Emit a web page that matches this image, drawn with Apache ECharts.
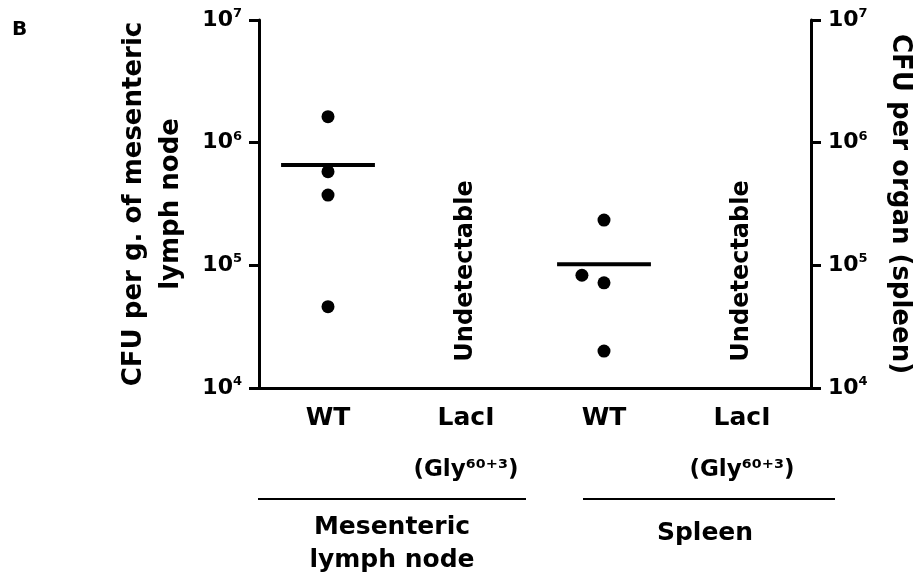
<!DOCTYPE html>
<html>
<head>
<meta charset="utf-8">
<script src="https://cdn.jsdelivr.net/npm/echarts@6/dist/echarts.min.js"></script>
<style>
  html, body { margin: 0; padding: 0; background: #fff; }
  #chart { width: 915px; height: 579px; }
</style>
</head>
<body>
<div id="chart"></div>
<script>
var groups = ['WT', 'LacI', 'WT', 'LacI']
var yTicks = [1e4, 1e5, 1e6, 1e7]
// CFU values
var mlnWT = [1.63e6, 5.8e5, 3.74e5, 4.6e4]
var spleenWT = [2.34e5, 8.3e4, 7.2e4, 2.0e4]
var spleenJitter = [0, -0.16, 0, 0]
var undetectable = [1, 3] // category index of LacI groups
var undetectableLevel = 9e4

var font = 'DejaVu Sans'
var chart = echarts.init(document.getElementById('chart'))

function pts(vals, cat, jitter) {
  return vals.map(function(v, i) {
    return [cat + 0.5 + (jitter ? jitter[i] : 0), v]
  })
}
function mean(vals) {
  var s = 0
  for (var i = 0; i < vals.length; i++) s += vals[i]
  return s / vals.length
}
function meanLine(vals, cat) {
  var m = mean(vals)
  return {
    type: 'line',
    xAxisIndex: 1,
    symbol: 'none',
    silent: true,
    lineStyle: { color: '#000', width: 4 },
    data: [[cat + 0.5 - 0.34, m], [cat + 0.5 + 0.34, m]]
  }
}

var yLabel = {
  margin: 17,
  color: '#000',
  formatter: function(v) {
    return '{b|10}{s|' + Math.round(Math.log10(v)) + '}'
  },
  rich: {
    b: { fontSize: 22, fontWeight: 'bold', fontFamily: font, lineHeight: 26, color: '#000' },
    s: { fontSize: 13, fontWeight: 'bold', fontFamily: font, lineHeight: 15, verticalAlign: 'top', color: '#000' }
  }
}
function yAxisOpt(pos, name, rot) {
  return {
    type: 'log',
    logBase: 10,
    min: yTicks[0],
    max: yTicks[yTicks.length - 1],
    position: pos,
    axisLine: { show: true, lineStyle: { color: '#000', width: 3 } },
    axisTick: { show: true, length: 10, lineStyle: { color: '#000', width: 3 } },
    minorTick: { show: false },
    splitLine: { show: false },
    axisLabel: yLabel,
    name: name,
    nameLocation: 'middle',
    nameRotate: rot,
    nameGap: pos === 'left' ? 69 : 70,
    nameTextStyle: { fontSize: 26, fontWeight: 'bold', fontFamily: font, lineHeight: 37, color: '#000' }
  }
}

var option = {
  animation: false,
  backgroundColor: '#fff',
  grid: { left: 259, right: 104, top: 20, bottom: 191, containLabel: false, outerBoundsMode: 'none' },
  xAxis: [
    {
      type: 'category',
      data: groups,
      axisLine: { onZero: false, lineStyle: { color: '#000', width: 3 } },
      axisTick: { alignWithLabel: true, length: 5, lineStyle: { color: '#000', width: 3 } },
      axisLabel: {
        margin: 4,
        interval: 0,
        formatter: function(v) {
          if (v === 'LacI') return '{b|LacI}\n{g|(Gly⁶⁰⁺³)}'
          return '{b|' + v + '}'
        },
        rich: {
          b: { fontSize: 25, fontWeight: 'bold', fontFamily: font, lineHeight: 52, color: '#000' },
          g: { fontSize: 23, fontWeight: 'bold', fontFamily: font, lineHeight: 52, color: '#000' }
        }
      }
    },
    { type: 'value', min: 0, max: 4, show: false }
  ],
  yAxis: [
    yAxisOpt('left', 'CFU per g. of mesenteric\nlymph node', 90),
    yAxisOpt('right', 'CFU per organ (spleen)', -90)
  ],
  series: [
    {
      type: 'scatter',
      xAxisIndex: 1,
      symbolSize: 13,
      itemStyle: { color: '#000', opacity: 1 },
      data: pts(mlnWT, 0)
    },
    {
      type: 'scatter',
      xAxisIndex: 1,
      symbolSize: 13,
      itemStyle: { color: '#000', opacity: 1 },
      data: pts(spleenWT, 2, spleenJitter)
    },
    meanLine(mlnWT, 0),
    meanLine(spleenWT, 2),
    {
      type: 'scatter',
      xAxisIndex: 1,
      symbolSize: 1,
      itemStyle: { color: 'rgba(0,0,0,0)', opacity: 1 },
      label: {
        show: true,
        position: 'inside',
        rotate: 90,
        formatter: 'Undetectable',
        fontSize: 24,
        fontWeight: 'bold',
        fontFamily: font,
        color: '#000',
        opacity: 1
      },
      data: undetectable.map(function(c) { return [c + 0.5, undetectableLevel] })
    }
  ],
  graphic: [
    { type: 'text', x: 12, y: 20, style: { text: 'B', fontSize: 20, fontWeight: 'bold', fontFamily: font, fill: '#000' } },
    { type: 'line', shape: { x1: 258, y1: 499, x2: 526, y2: 499 }, style: { stroke: '#000', lineWidth: 2 } },
    { type: 'line', shape: { x1: 583, y1: 499, x2: 835, y2: 499 }, style: { stroke: '#000', lineWidth: 2 } },
    {
      type: 'text', x: 392, y: 544,
      style: { text: 'Mesenteric\nlymph node', align: 'center', verticalAlign: 'middle', lineHeight: 33,
        fontSize: 25, fontWeight: 'bold', fontFamily: font, fill: '#000' }
    },
    {
      type: 'text', x: 705, y: 533,
      style: { text: 'Spleen', align: 'center', verticalAlign: 'middle',
        fontSize: 25, fontWeight: 'bold', fontFamily: font, fill: '#000' }
    }
  ]
}
chart.setOption(option)
</script>
</body>
</html>
